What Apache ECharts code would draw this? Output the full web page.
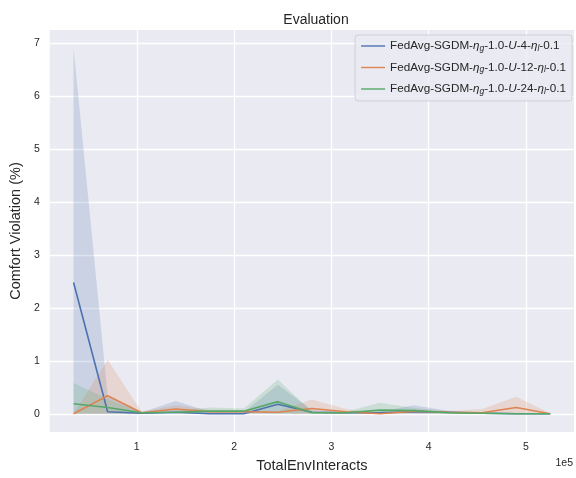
<!DOCTYPE html>
<html>
<head>
<meta charset="utf-8">
<script src="https://cdn.jsdelivr.net/npm/echarts@6/dist/echarts.min.js"></script>
<style>html,body{margin:0;padding:0;background:#fff}#c{width:576px;height:478px}</style>
</head>
<body>
<div id="c"></div>
<script>
const xValues = [35000,70000,105000,140000,175000,210000,245000,280000,315000,350000,385000,420000,455000,490000,525000];
const names = ['FedAvg-SGDM-ηg-1.0-U-4-ηl-0.1','FedAvg-SGDM-ηg-1.0-U-12-ηl-0.1','FedAvg-SGDM-ηg-1.0-U-24-ηl-0.1'];
const blueMean  = [2.48,0.04,0.01,0.03,0.00,0.00,0.18,0.03,0.02,0.02,0.04,0.03,0.01,0.00,0.00];
const blueHi    = [6.90,0.35,0.03,0.24,0.04,0.03,0.55,0.07,0.04,0.04,0.16,0.06,0.03,0.02,0.01];
const blueLo    = [0.00,0.00,0.00,0.00,0.00,0.00,0.00,0.00,0.00,0.00,0.00,0.00,0.00,0.00,0.00];
const orangeMean= [0.00,0.34,0.02,0.09,0.04,0.04,0.03,0.10,0.04,0.00,0.05,0.03,0.02,0.12,0.00];
const orangeHi  = [0.00,1.02,0.04,0.16,0.07,0.07,0.05,0.27,0.09,0.01,0.08,0.05,0.09,0.32,0.01];
const orangeLo  = [0.00,0.00,0.00,0.02,0.01,0.01,0.01,0.00,0.00,0.00,0.01,0.00,0.00,0.00,0.00];
const greenMean = [0.19,0.12,0.02,0.03,0.05,0.05,0.23,0.02,0.02,0.07,0.06,0.02,0.01,0.00,0.00];
const greenHi   = [0.58,0.28,0.03,0.06,0.12,0.10,0.65,0.04,0.04,0.21,0.11,0.05,0.03,0.01,0.01];
const greenLo   = [0.00,0.00,0.00,0.01,0.00,0.01,0.00,0.00,0.00,0.00,0.01,0.00,0.00,0.00,0.00];
const xTicks = [100000,200000,300000,400000,500000];
const yTicks = [0,1,2,3,4,5,6,7];
const colors = ['#4c72b0','#dd8452','#55a868'];

const legendLabels = [
  'FedAvg-SGDM-{i|η}{s|g}-1.0-{i|U}-4-{i|η}{s|l}-0.1',
  'FedAvg-SGDM-{i|η}{s|g}-1.0-{i|U}-12-{i|η}{s|l}-0.1',
  'FedAvg-SGDM-{i|η}{s|g}-1.0-{i|U}-24-{i|η}{s|l}-0.1'
];

const groups = [
  [blueMean, blueHi, blueLo],
  [orangeMean, orangeHi, orangeLo],
  [greenMean, greenHi, greenLo]
];

const series = [];
groups.forEach((g, i) => {
  const [mean, hi, lo] = g;
  series.push({
    type: 'custom', name: 'band' + i, silent: true, z: 1, clip: true,
    encode: {x: 0, y: [1, 2]},
    data: xValues.map((x, j) => [x, lo[j], hi[j]]),
    renderItem: function(params, api) {
      if (params.dataIndex !== 0) return null;
      const pts = [];
      for (let j = 0; j < xValues.length; j++) pts.push(api.coord([xValues[j], hi[j]]));
      for (let j = xValues.length - 1; j >= 0; j--) pts.push(api.coord([xValues[j], lo[j]]));
      return {
        type: 'polygon', shape: {points: pts},
        style: {fill: colors[i], opacity: 0.2}
      };
    }
  });
});
groups.forEach((g, i) => {
  series.push({
    type: 'line', name: names[i], symbol: 'none', color: colors[i],
    lineStyle: {width: 1.6, color: colors[i]},
    data: xValues.map((x, j) => [x, g[0][j]]), z: 3
  });
});

const chart = echarts.init(document.getElementById('c'), null, {renderer: 'canvas'});
chart.setOption({
  animation: false,
  backgroundColor: '#ffffff',
  title: {
    text: 'Evaluation', left: 311, top: 8, textAlign: 'center',
    textStyle: {fontFamily: 'Liberation Sans, Arial, sans-serif', fontSize: 14, fontWeight: 'normal', color: '#262626'}
  },
  grid: {left: 48, right: 2, top: 30, bottom: 42, show: true, backgroundColor: '#eaeaf2', borderWidth: 0},
  legend: {
    data: names, orient: 'vertical', right: 4, top: 35,
    itemWidth: 24, itemHeight: 10, itemGap: 8.5,
    backgroundColor: 'rgba(234,234,242,0.8)', borderColor: '#d0d0d8', borderWidth: 1, borderRadius: 3,
    padding: [5, 6, 5, 6],
    icon: 'path://M0,4.3L24,4.3L24,5.7L0,5.7Z',
    formatter: function(n){ return legendLabels[names.indexOf(n)]; },
    textStyle: {
      fontFamily: 'Liberation Sans, Arial, sans-serif', fontSize: 11.7, color: '#262626',
      rich: {
        i: {fontStyle: 'italic', fontSize: 11.7, fontFamily: 'Liberation Sans, Arial, sans-serif', color: '#262626'},
        s: {fontStyle: 'italic', fontSize: 8.5, verticalAlign: 'bottom', padding: [5,0,0,0], fontFamily: 'Liberation Sans, Arial, sans-serif', color: '#262626'}
      }
    }
  },
  xAxis: {
    type: 'value', min: 10500, max: 549500,
    name: 'TotalEnvInteracts', nameLocation: 'middle', nameGap: 24,
    nameTextStyle: {fontFamily: 'Liberation Sans, Arial, sans-serif', fontSize: 14.5, color: '#262626'},
    axisLine: {show: false}, axisTick: {show: false, customValues: xTicks},
    axisLabel: {customValues: xTicks, formatter: v => String(Math.round(v/1e5)), fontFamily: 'Liberation Sans, Arial, sans-serif', fontSize: 10.5, color: '#262626', margin: 10},
    splitLine: {show: true, lineStyle: {color: '#ffffff', width: 1.3}}
  },
  yAxis: {
    type: 'value', min: -0.345, max: 7.245,
    name: 'Comfort Violation (%)', nameLocation: 'middle', nameGap: 24,
    nameTextStyle: {fontFamily: 'Liberation Sans, Arial, sans-serif', fontSize: 14.5, color: '#262626'},
    axisLine: {show: false}, axisTick: {show: false, customValues: yTicks},
    axisLabel: {customValues: yTicks, formatter: v => String(Math.round(v)), fontFamily: 'Liberation Sans, Arial, sans-serif', fontSize: 10.5, color: '#262626', margin: 10},
    splitLine: {show: true, lineStyle: {color: '#ffffff', width: 1.3}}
  },
  graphic: [{
    type: 'text', right: 3, top: 458,
    style: {text: '1e5', fontFamily: 'Liberation Sans, Arial, sans-serif', fontSize: 10.5, fill: '#262626'}
  }],
  series: series
});
</script>
</body>
</html>
